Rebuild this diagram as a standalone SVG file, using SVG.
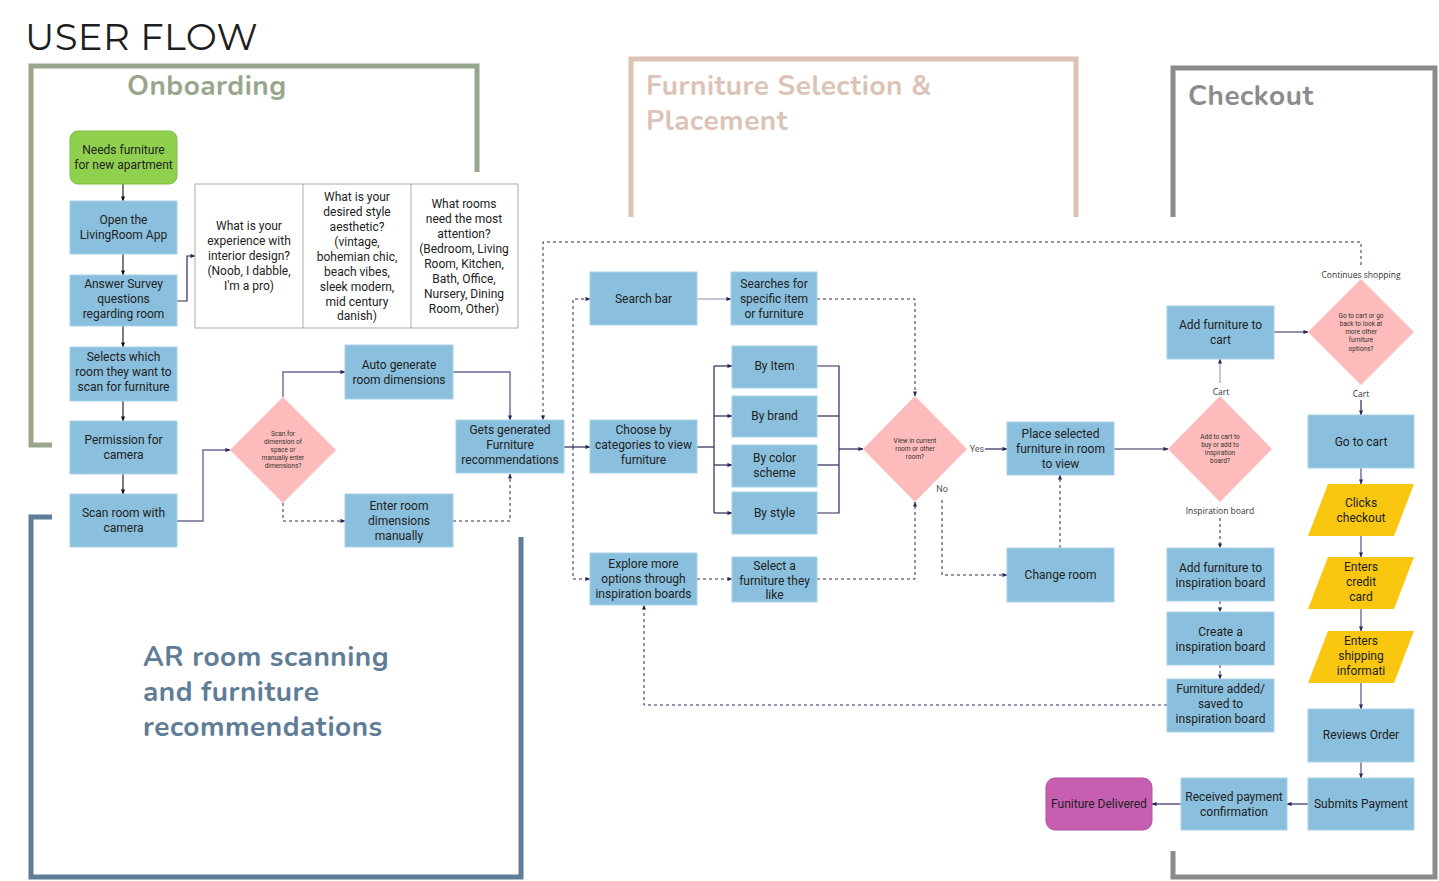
<svg xmlns="http://www.w3.org/2000/svg" width="1439" height="881" viewBox="0 0 1439 881">
<defs>
<marker id="ah" viewBox="0 0 6 6" refX="5.5" refY="3" markerWidth="5" markerHeight="5" orient="auto" markerUnits="userSpaceOnUse"><path d="M0,0.5 L6,3 L0,5.5 Z" fill="#2b2858"/></marker>
<marker id="ahk" viewBox="0 0 6 6" refX="5.5" refY="3" markerWidth="5" markerHeight="5" orient="auto" markerUnits="userSpaceOnUse"><path d="M0,0.5 L6,3 L0,5.5 Z" fill="#111"/></marker>
<style>
.b{fill:#8abfdd;stroke:#a9d2ea;stroke-width:1}
.d{fill:#fdbcbb}
.y{fill:#f9c70f}
.t{font-family:Roboto,"Liberation Sans",sans-serif;font-size:12px;fill:#222;text-anchor:middle;dominant-baseline:central}
.s{font-family:Roboto,"Liberation Sans",sans-serif;font-size:6.5px;fill:#333;text-anchor:middle;dominant-baseline:central}
.l{font-family:"Open Sans","Liberation Sans",sans-serif;font-size:8.5px;fill:#333;text-anchor:middle;dominant-baseline:central}
.lb{font-family:Roboto,"Liberation Sans",sans-serif;font-size:9px;fill:#555;text-anchor:middle;dominant-baseline:central}
.c{fill:none;stroke:#2b2858;stroke-width:1.2}
.cl{fill:none;stroke:#6c6a96;stroke-width:1.4}
.cg{fill:none;stroke:#8c8aa8;stroke-width:1}
.ck{fill:none;stroke:#111;stroke-width:1.1}
.dd{fill:none;stroke:#2b2858;stroke-width:1;stroke-dasharray:3 3}
.h{font-family:Nunito,Lato,"Open Sans",sans-serif;font-weight:bold;font-size:28px;letter-spacing:0.5px;dominant-baseline:central}
.f{fill:none;stroke-width:5}
</style>
</defs>

<text x="25" y="36" font-family="Montserrat,'Liberation Sans',sans-serif" font-size="37" fill="#1e1e1e" dominant-baseline="central" letter-spacing="0.4">USER FLOW</text>

<g id="frames">
<path class="f" stroke="#98a68e" d="M52,445 H31 V66 H477 V172"/>
<path class="f" stroke="#5f7d96" d="M52,517 H31 V877 H521 V537"/>
<path class="f" stroke="#dcc3b6" d="M631,217 V59 H1076 V217"/>
<path class="f" stroke="#8c8c8c" d="M1173,217 V68 H1435 V877 H1173 V851"/>
<text class="h" x="127" y="86" fill="#98a68e">Onboarding</text>
<text class="h" x="646" y="86" fill="#dcc3b6">Furniture Selection &amp;</text>
<text class="h" x="646" y="121" fill="#dcc3b6">Placement</text>
<text class="h" x="1188" y="96" fill="#8c8c8c">Checkout</text>
<text class="h" x="143" y="657" fill="#5f7d96">AR room scanning</text>
<text class="h" x="143" y="692" fill="#5f7d96">and furniture</text>
<text class="h" x="143" y="727" fill="#5f7d96">recommendations</text>
</g>

<g id="connectors">
<path class="ck" d="M123,184 V201" marker-end="url(#ahk)"/>
<path class="ck" d="M123,254 V275" marker-end="url(#ahk)"/>
<path class="ck" d="M123,326 V347" marker-end="url(#ahk)"/>
<path class="ck" d="M123,401 V421" marker-end="url(#ahk)"/>
<path class="ck" d="M123,474 V494" marker-end="url(#ahk)"/>
<path class="c" d="M177,301 H187 V256 H195" marker-end="url(#ah)"/>
<path class="cl" d="M177,521 H203 V450 H230" marker-end="url(#ah)"/>
<path class="cl" d="M283,397 V372 H345" marker-end="url(#ah)"/>
<path class="dd" d="M283,503 V521 H345" marker-end="url(#ah)"/>
<path class="cl" d="M453,372 H510 V420" marker-end="url(#ah)"/>
<path class="dd" d="M453,521 H510 V474" marker-end="url(#ah)"/>
<path class="dd" d="M1361,265 V242 H543 V420" marker-end="url(#ah)"/>
<path class="c" d="M564,447 H590" marker-end="url(#ah)"/>
<path class="dd" d="M573,447 V299 H590" marker-end="url(#ah)"/>
<path class="dd" d="M573,447 V579 H590" marker-end="url(#ah)"/>
<path class="cg" d="M697,299 H731" marker-end="url(#ah)"/>
<path class="dd" d="M817,299 H915 V396" marker-end="url(#ah)"/>
<path class="c" d="M697,447 H714"/>
<path class="c" d="M714,366 V513"/>
<path class="c" d="M714,366 H732" marker-end="url(#ah)"/>
<path class="c" d="M714,416 H732" marker-end="url(#ah)"/>
<path class="c" d="M714,465 H732" marker-end="url(#ah)"/>
<path class="c" d="M714,513 H732" marker-end="url(#ah)"/>
<path class="c" d="M817,366 H839 V513 H817"/>
<path class="c" d="M817,416 H839"/>
<path class="c" d="M817,465 H839"/>
<path class="c" d="M839,449 H863" marker-end="url(#ah)"/>
<path class="dd" d="M697,579 H732" marker-end="url(#ah)"/>
<path class="dd" d="M817,579 H915 V502" marker-end="url(#ah)"/>
<path class="c" d="M985,449 H1007" marker-end="url(#ah)"/>
<path class="dd" d="M942,500 V575 H1007" marker-end="url(#ah)"/>
<path class="dd" d="M1060,548 V475" marker-end="url(#ah)"/>
<path class="c" d="M1114,449 H1168" marker-end="url(#ah)"/>
<path class="cg" d="M1220,383 V359" marker-end="url(#ah)"/>
<path class="dd" d="M1220,518 V548" marker-end="url(#ah)"/>
<path class="dd" d="M1220,601 V612" marker-end="url(#ah)"/>
<path class="dd" d="M1220,665 V679" marker-end="url(#ah)"/>
<path class="dd" d="M1167,705 H644 V605" marker-end="url(#ah)"/>
<path class="c" d="M1274,332 H1308" marker-end="url(#ah)"/>
<path class="c" d="M1361,400 V415" marker-end="url(#ah)"/>
<path class="cl" d="M1361,468 V484" marker-end="url(#ah)"/>
<path class="cl" d="M1361,536 V557" marker-end="url(#ah)"/>
<path class="cl" d="M1361,609 V631" marker-end="url(#ah)"/>
<path class="cl" d="M1361,683 V709" marker-end="url(#ah)"/>
<path class="cl" d="M1361,762 V778" marker-end="url(#ah)"/>
<path class="c" d="M1308,804 H1287" marker-end="url(#ah)"/>
<path class="c" d="M1181,804 H1152" marker-end="url(#ah)"/>
<text class="lb" x="977" y="449">Yes</text>
<text class="lb" x="942" y="489">No</text>
<text class="l" x="1221" y="391">Cart</text>
<text class="l" x="1220" y="510">Inspiration board</text>
<text class="l" x="1361" y="274">Continues shopping</text>
<text class="l" x="1361" y="393">Cart</text>
</g>

<g id="n-needs"><rect x="70" y="131" width="107" height="53" rx="8" fill="#8fd14f" stroke="#7fbf44"/><text class="t" x="123.5" y="150">Needs furniture</text><text class="t" x="123.5" y="165">for new apartment</text></g>
<g id="n-open"><rect class="b" x="70" y="201" width="107" height="53"/><text class="t" x="123.5" y="220">Open the</text><text class="t" x="123.5" y="235">LivingRoom App</text></g>
<g id="n-survey"><rect class="b" x="70" y="275" width="107" height="51"/><text class="t" x="123.5" y="284">Answer Survey</text><text class="t" x="123.5" y="299">questions</text><text class="t" x="123.5" y="314">regarding room</text></g>
<g id="n-selects"><rect class="b" x="70" y="347" width="107" height="54"/><text class="t" x="123.5" y="357">Selects which</text><text class="t" x="123.5" y="372">room they want to</text><text class="t" x="123.5" y="387">scan for furniture</text></g>
<g id="n-permission"><rect class="b" x="70" y="421" width="107" height="53"/><text class="t" x="123.5" y="440">Permission for</text><text class="t" x="123.5" y="455">camera</text></g>
<g id="n-scan"><rect class="b" x="70" y="494" width="107" height="53"/><text class="t" x="123.5" y="513">Scan room with</text><text class="t" x="123.5" y="528">camera</text></g>

<g id="n-table">
<rect x="195" y="184" width="323" height="144" fill="#fff" stroke="#aaa"/>
<path d="M303,184 V328 M411,184 V328" stroke="#aaa" fill="none"/>
<text class="t" x="249" y="226">What is your</text><text class="t" x="249" y="241">experience with</text><text class="t" x="249" y="256">interior design?</text><text class="t" x="249" y="271">(Noob, I dabble,</text><text class="t" x="249" y="286">I'm a pro)</text>
<text class="t" x="357" y="197">What is your</text><text class="t" x="357" y="212">desired style</text><text class="t" x="357" y="227">aesthetic?</text><text class="t" x="357" y="242">(vintage,</text><text class="t" x="357" y="257">bohemian chic,</text><text class="t" x="357" y="272">beach vibes,</text><text class="t" x="357" y="287">sleek modern,</text><text class="t" x="357" y="302">mid century</text><text class="t" x="357" y="316">danish)</text>
<text class="t" x="464" y="204">What rooms</text><text class="t" x="464" y="219">need the most</text><text class="t" x="464" y="234">attention?</text><text class="t" x="464" y="249">(Bedroom, Living</text><text class="t" x="464" y="264">Room, Kitchen,</text><text class="t" x="464" y="279">Bath, Office,</text><text class="t" x="464" y="294">Nursery, Dining</text><text class="t" x="464" y="309">Room, Other)</text>
</g>

<g id="n-dscan"><path class="d" d="M283,397 L336,450 L283,503 L230,450 Z"/><text class="s" x="283" y="434">Scan for</text><text class="s" x="283" y="442">dimension of</text><text class="s" x="283" y="450">space or</text><text class="s" x="283" y="458">manually enter</text><text class="s" x="283" y="466">dimensions?</text></g>
<g id="n-auto"><rect class="b" x="345" y="345" width="108" height="54"/><text class="t" x="399" y="365">Auto generate</text><text class="t" x="399" y="380">room dimensions</text></g>
<g id="n-enter"><rect class="b" x="345" y="494" width="108" height="53"/><text class="t" x="399" y="506">Enter room</text><text class="t" x="399" y="521">dimensions</text><text class="t" x="399" y="536">manually</text></g>
<g id="n-gets"><rect class="b" x="456" y="420" width="108" height="53"/><text class="t" x="510" y="430">Gets generated</text><text class="t" x="510" y="445">Furniture</text><text class="t" x="510" y="460">recommendations</text></g>

<g id="n-search"><rect class="b" x="590" y="272" width="107" height="53"/><text class="t" x="643.5" y="299">Search bar</text></g>
<g id="n-searches"><rect class="b" x="731" y="272" width="86" height="53"/><text class="t" x="774" y="284">Searches for</text><text class="t" x="774" y="299">specific item</text><text class="t" x="774" y="314">or furniture</text></g>
<g id="n-choose"><rect class="b" x="590" y="420" width="107" height="53"/><text class="t" x="643.5" y="430">Choose by</text><text class="t" x="643.5" y="445">categories to view</text><text class="t" x="643.5" y="460">furniture</text></g>
<g id="n-item"><rect class="b" x="732" y="346" width="85" height="42"/><text class="t" x="774.5" y="366">By Item</text></g>
<g id="n-brand"><rect class="b" x="732" y="396" width="85" height="41"/><text class="t" x="774.5" y="416">By brand</text></g>
<g id="n-color"><rect class="b" x="732" y="445" width="85" height="42"/><text class="t" x="774.5" y="458">By color</text><text class="t" x="774.5" y="473">scheme</text></g>
<g id="n-style"><rect class="b" x="732" y="492" width="85" height="42"/><text class="t" x="774.5" y="513">By style</text></g>
<g id="n-explore"><rect class="b" x="590" y="553" width="107" height="52"/><text class="t" x="643.5" y="564">Explore more</text><text class="t" x="643.5" y="579">options through</text><text class="t" x="643.5" y="594">inspiration boards</text></g>
<g id="n-select"><rect class="b" x="732" y="557" width="85" height="45"/><text class="t" x="774.5" y="566">Select a</text><text class="t" x="774.5" y="581">furniture they</text><text class="t" x="774.5" y="595">like</text></g>

<g id="n-dview"><path class="d" d="M915,396 L967,449 L915,502 L863,449 Z"/><text class="s" x="915" y="441">View in current</text><text class="s" x="915" y="449">room or other</text><text class="s" x="915" y="457">room?</text></g>
<g id="n-place"><rect class="b" x="1007" y="422" width="107" height="53"/><text class="t" x="1060.5" y="434">Place selected</text><text class="t" x="1060.5" y="449">furniture in room</text><text class="t" x="1060.5" y="464">to view</text></g>
<g id="n-change"><rect class="b" x="1007" y="548" width="107" height="54"/><text class="t" x="1060.5" y="575">Change room</text></g>

<g id="n-dcart"><path class="d" d="M1220,396 L1272,449 L1220,502 L1168,449 Z"/><text class="s" x="1220" y="437">Add to cart to</text><text class="s" x="1220" y="445">buy or add to</text><text class="s" x="1220" y="453">inspiration</text><text class="s" x="1220" y="461">board?</text></g>
<g id="n-addcart"><rect class="b" x="1167" y="306" width="107" height="53"/><text class="t" x="1220.5" y="325">Add furniture to</text><text class="t" x="1220.5" y="340">cart</text></g>
<g id="n-addinsp"><rect class="b" x="1167" y="548" width="107" height="53"/><text class="t" x="1220.5" y="568">Add furniture to</text><text class="t" x="1220.5" y="583">inspiration board</text></g>
<g id="n-create"><rect class="b" x="1167" y="612" width="107" height="53"/><text class="t" x="1220.5" y="632">Create a</text><text class="t" x="1220.5" y="647">inspiration board</text></g>
<g id="n-added"><rect class="b" x="1167" y="679" width="107" height="53"/><text class="t" x="1220.5" y="689">Furniture added/</text><text class="t" x="1220.5" y="704">saved to</text><text class="t" x="1220.5" y="719">inspiration board</text></g>

<g id="n-dgo"><path class="d" d="M1361,279 L1414,332 L1361,385 L1308,332 Z"/><text class="s" x="1361" y="316">Go to cart or go</text><text class="s" x="1361" y="324">back to look at</text><text class="s" x="1361" y="332">more other</text><text class="s" x="1361" y="340">furniture</text><text class="s" x="1361" y="349">options?</text></g>
<g id="n-gocart"><rect class="b" x="1308" y="415" width="106" height="53"/><text class="t" x="1361" y="442">Go to cart</text></g>
<g id="n-clicks"><path class="y" d="M1328,484 H1414 L1394,536 H1308 Z"/><text class="t" x="1361" y="503">Clicks</text><text class="t" x="1361" y="518">checkout</text></g>
<g id="n-credit"><path class="y" d="M1328,557 H1414 L1394,609 H1308 Z"/><text class="t" x="1361" y="567">Enters</text><text class="t" x="1361" y="582">credit</text><text class="t" x="1361" y="597">card</text></g>
<g id="n-shipping"><path class="y" d="M1328,631 H1414 L1394,683 H1308 Z"/><text class="t" x="1361" y="641">Enters</text><text class="t" x="1361" y="656">shipping</text><text class="t" x="1361" y="671">informati</text></g>
<g id="n-review"><rect class="b" x="1308" y="709" width="106" height="53"/><text class="t" x="1361" y="735">Reviews Order</text></g>
<g id="n-submit"><rect class="b" x="1308" y="778" width="106" height="52"/><text class="t" x="1361" y="804">Submits Payment</text></g>
<g id="n-received"><rect class="b" x="1181" y="778" width="106" height="52"/><text class="t" x="1234" y="797">Received payment</text><text class="t" x="1234" y="812">confirmation</text></g>
<g id="n-delivered"><rect x="1046" y="778" width="106" height="52" rx="9" fill="#c75fb1" stroke="#b5519f"/><text class="t" x="1099" y="804">Funiture Delivered</text></g>
</svg>
